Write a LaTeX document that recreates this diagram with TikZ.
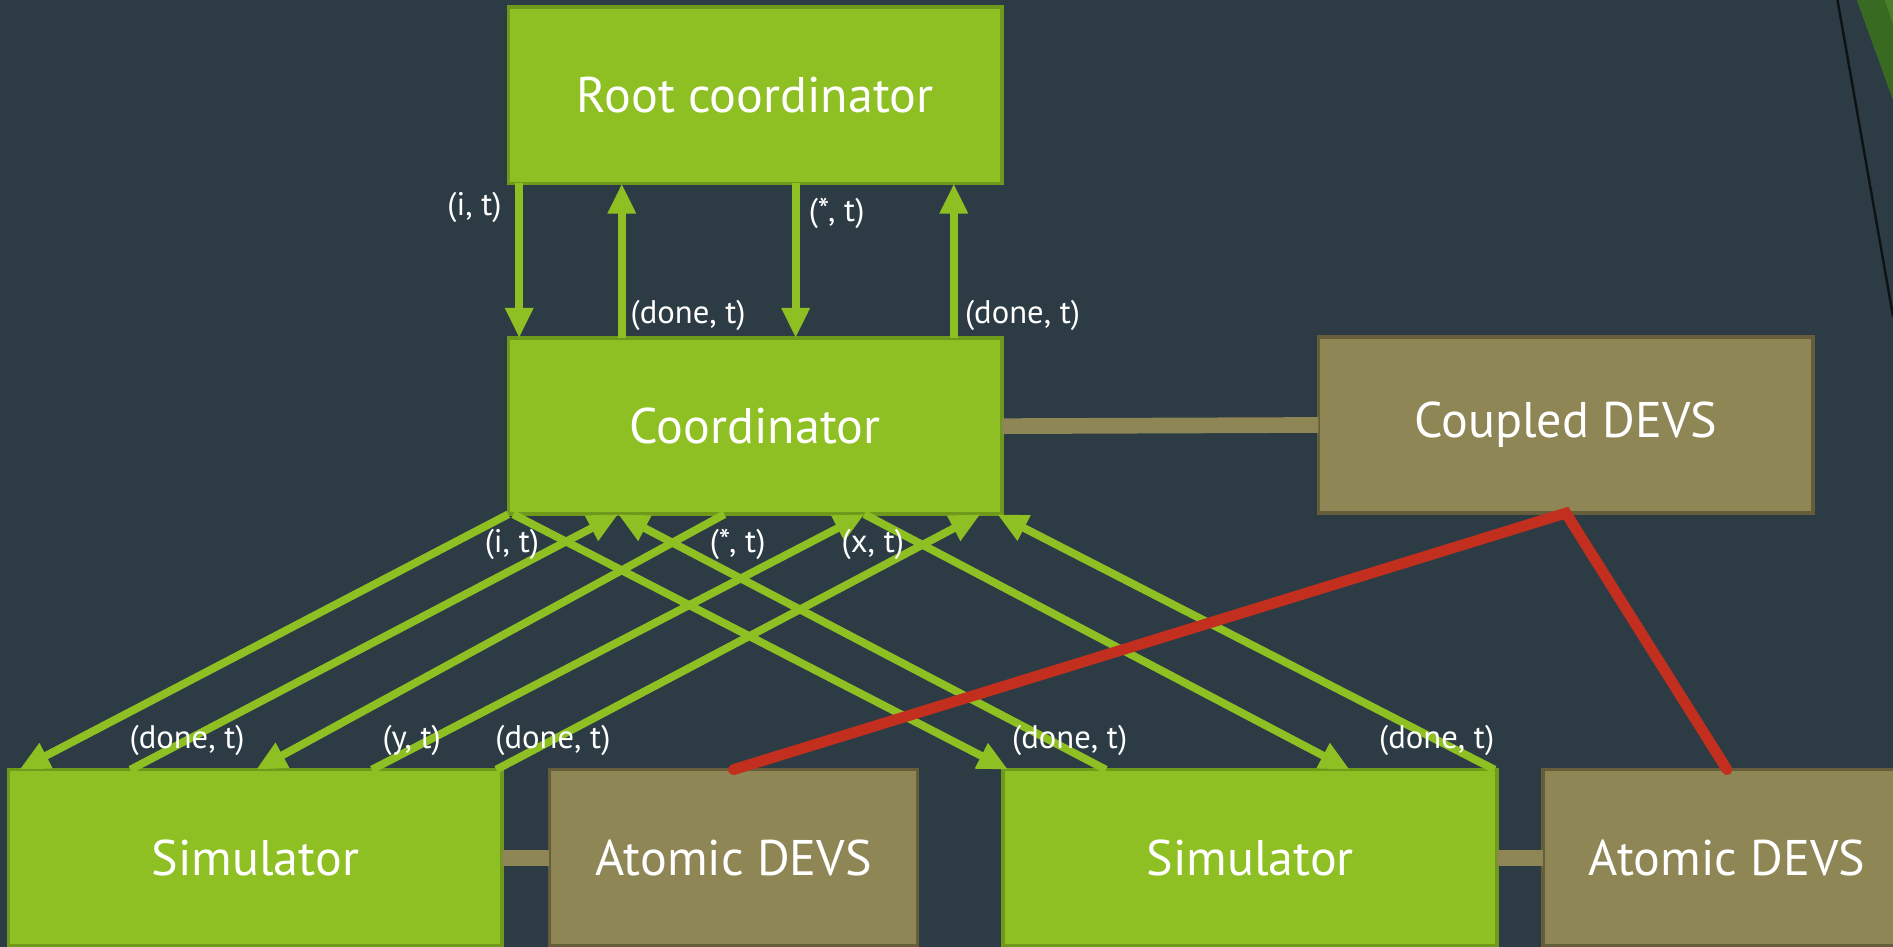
\documentclass[tikz,border=0pt]{standalone}
\usepackage{fontspec}
\setmainfont{PT Sans}
\usetikzlibrary{arrows.meta,calc}
\definecolor{slidebg}{HTML}{2C3B44}
\definecolor{boxgreen}{HTML}{8FC023}
\definecolor{boxgreenborder}{HTML}{6E991B}
\definecolor{boxbrown}{HTML}{8F8656}
\definecolor{boxbrownborder}{HTML}{665D3B}
\definecolor{linkred}{HTML}{C22F1E}
\definecolor{decogreen}{HTML}{386A22}
\definecolor{decolight}{HTML}{4A7F2A}
\tikzset{
  greenbox/.style={draw=boxgreenborder, fill=boxgreen, line width=0.06cm, outer sep=0pt,
    minimum width=8.18cm, minimum height=2.92cm, inner sep=0pt, text=white,
    font=\fontsize{23.6}{28}\selectfont},
  brownbox/.style={greenbox, draw=boxbrownborder, fill=boxbrown},
  msg/.style={draw=boxgreen, line width=0.13cm, -{Triangle[width=0.44cm,length=0.5cm]}},
  msglabel/.style={text=white, inner sep=0pt, font=\fontsize{15.4}{18}\selectfont},
  modellink/.style={draw=boxbrown, line width=0.26cm},
  redlink/.style={draw=linkred, line width=0.18cm, line cap=round}
}
\begin{document}
\begin{tikzpicture}[x=0.02cm,y=-0.02cm]
% background
\fill[slidebg] (0,0) rectangle (1568,784);
\clip (0,0) rectangle (1568,784);
% corner decoration
\fill[decogreen] (1538,0) -- (1568,0) -- (1568,83) -- cycle;
\fill[decolight] (1561,0) -- (1568,0) -- (1568,20) -- cycle;
\draw[black!70!slidebg, line width=0.04cm] (1522,0) -- (1568,262);
% boxes
\node[greenbox] (root) at (625.5,79) {Root coordinator};
\node[greenbox] (coord) at (625.5,353) {Coordinator};
\node[brownbox, minimum width=8.2cm] (coupled) at (1297,352) {Coupled DEVS};
\node[greenbox] (sim1) at (211.5,710.5) {Simulator};
\node[brownbox, minimum width=6.1cm] (atomic1) at (607.5,710.5) {Atomic DEVS};
\node[greenbox] (sim2) at (1035.5,710.5) {Simulator};
\node[brownbox, minimum width=6.1cm] (atomic2) at (1430.5,710.5) {Atomic DEVS};
% model links
\draw[modellink] (coord.east) -- (coupled.west);
\draw[modellink] (sim1.east) -- (atomic1.west);
\draw[modellink] (sim2.east) -- (atomic2.west);
% root <-> coordinator
\draw[msg] ($(root.south west)+(9,0)$) -- ($(coord.north west)+(9,0)$);
\draw[msg] ($(coord.north west)+(94,0)$) -- ($(root.south west)+(94,0)$);
\draw[msg] ($(root.south west)+(238,0)$) -- ($(coord.north west)+(238,0)$);
\draw[msg] ($(coord.north west)+(369,0)$) -- ($(root.south west)+(369,0)$);
% coordinator <-> simulator 1
\draw[msg] (coord.south west) -- ($(sim1.north west)+(9,0)$);
\draw[msg] ($(sim1.north west)+(101,0)$) -- ($(coord.south west)+(91,0)$);
\draw[msg] ($(coord.south west)+(179,0)$) -- ($(sim1.north west)+(205,0)$);
\draw[msg] ($(sim1.north west)+(301,0)$) -- ($(coord.south west)+(295,0)$);
\draw[msg] ($(sim1.north west)+(404,0)$) -- ($(coord.south west)+(391,0)$);
% coordinator <-> simulator 2
\draw[msg] ($(coord.south west)+(4,0)$) -- ($(sim2.north west)+(4,0)$);
\draw[msg] ($(sim2.north west)+(85,0)$) -- ($(coord.south west)+(91,0)$);
\draw[msg] ($(coord.south west)+(295,0)$) -- ($(sim2.north west)+(287,0)$);
\draw[msg] ($(sim2.north west)+(407,0)$) -- ($(coord.south west)+(405,0)$);
% labels
\node[msglabel] (l1) at (393,172) {(i, t)};
\node[msglabel] (l2) at (570,261) {(done, t)};
\node[msglabel] (l3) at (693,177) {(*, t)};
\node[msglabel] (l4) at (847,261) {(done, t)};
\node[msglabel] (l5) at (424,451) {(i, t)};
\node[msglabel] (l6) at (611,451) {(*, t)};
\node[msglabel] (l7) at (723,451) {(x, t)};
\node[msglabel] (l8) at (155,613) {(done, t)};
\node[msglabel] (l9) at (341,613) {(y, t)};
\node[msglabel] (l10) at (458,613) {(done, t)};
\node[msglabel] (l11) at (886,613) {(done, t)};
\node[msglabel] (l12) at (1190,613) {(done, t)};
% coupled model structure
\draw[redlink] (atomic1.north) -- (coupled.south) -- (atomic2.north);
\end{tikzpicture}
\end{document}
